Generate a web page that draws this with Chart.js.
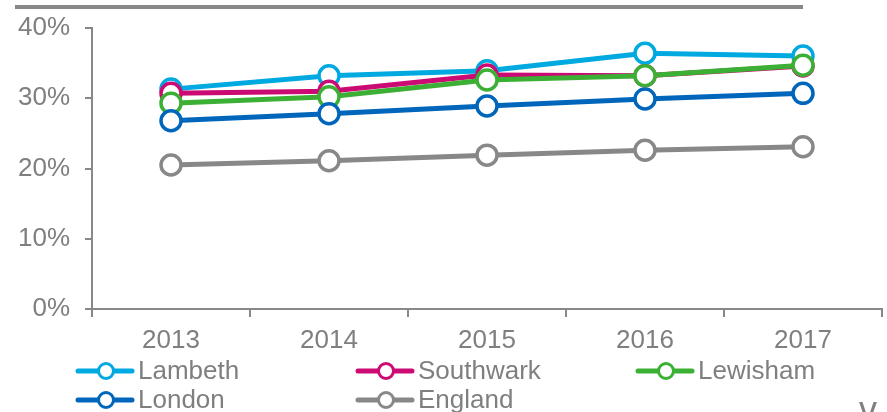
<!DOCTYPE html>
<html>
<head>
<meta charset="utf-8">
<script src="https://cdn.jsdelivr.net/npm/chart.js@4/dist/chart.umd.min.js"></script>
<style>
    body { margin: 0; background: #fff; }
    #wrap { position: relative; width: 887px; height: 412px; overflow: hidden; }
    #topline { position: absolute; left: 15px; top: 5px; width: 788px; height: 4px; background: #888; }
    #corner { position: absolute; left: 859px; top: 389px; font: 36px "Liberation Sans", Arial, sans-serif; color: #7f7f7f; }
</style>
</head>
<body>
<div id="wrap">
    <canvas id="lineChart" width="887" height="412"></canvas>
    <div id="topline"></div>
    <span id="corner">v</span>
</div>
<script>
"use strict";

// data
const years = ['2013', '2014', '2015', '2016', '2017'];
const lambeth = [31.3, 33.2, 33.9, 36.4, 36.0];
const southwark = [30.7, 31.0, 33.3, 33.2, 34.6];
const lewisham = [29.3, 30.2, 32.6, 33.2, 34.7];
const london = [26.8, 27.8, 28.9, 29.9, 30.7];
const england = [20.5, 21.1, 21.9, 22.6, 23.1];
const yTicks = [0, 10, 20, 30, 40];

const grey = '#7f7f7f';
const font = '"Liberation Sans", Arial, sans-serif';

function makeSet(label, data, color, order) {
    return {
        label: label,
        data: data,
        borderColor: color,
        backgroundColor: color,
        borderWidth: 5,
        pointRadius: 10,
        pointBorderWidth: 3.5,
        pointBackgroundColor: '#fff',
        pointBorderColor: color,
        order: order
    };
}

const sets = [
    makeSet('Lambeth', lambeth, '#00a9e0', 5),
    makeSet('Southwark', southwark, '#cc0a73', 4),
    makeSet('Lewisham', lewisham, '#3cb035', 3),
    makeSet('London', london, '#0066bb', 2),
    makeSet('England', england, '#888888', 1)
];

// egen legend, tre kolumner
const legendPlugin = {
    id: 'gridLegend',
    afterDraw(chart) {
        const ctx = chart.ctx;
        ctx.save();
        ctx.font = '26px ' + font;
        ctx.textBaseline = 'middle';
        sets.forEach((s, i) => {
            const x = 78 + (i % 3) * 280;
            const y = 371 + Math.floor(i / 3) * 29;
            ctx.strokeStyle = s.borderColor;
            ctx.lineWidth = 5;
            ctx.lineCap = 'round';
            ctx.beginPath();
            ctx.moveTo(x, y);
            ctx.lineTo(x + 54, y);
            ctx.stroke();
            ctx.beginPath();
            ctx.arc(x + 28, y, 7.5, 0, Math.PI * 2);
            ctx.fillStyle = '#fff';
            ctx.fill();
            ctx.lineWidth = 3;
            ctx.stroke();
            ctx.fillStyle = grey;
            ctx.fillText(s.label, x + 60, y + 1);
        });
        ctx.restore();
    }
};

new Chart(document.getElementById('lineChart'), {
    type: 'line',
    data: {
        labels: years,
        datasets: sets
    },
    options: {
        responsive: false,
        animation: false,
        layout: { autoPadding: false, padding: { top: 26, right: 5, left: 0, bottom: 0 } },
        plugins: {
            legend: { display: false },
            tooltip: { enabled: false }
        },
        scales: {
            x: {
                offset: true,
                grid: { offset: true, drawOnChartArea: false, tickLength: 8, color: '#888', lineWidth: 2 },
                border: { color: '#888', width: 2 },
                ticks: { color: grey, font: { size: 26, family: font, lineHeight: '48px' }, padding: 0 },
                afterFit(scale) { scale.height = 103; }
            },
            y: {
                min: 0,
                max: 40,
                afterBuildTicks(scale) { scale.ticks = yTicks.map(v => ({ value: v })); },
                grid: { drawOnChartArea: false, tickLength: 7, color: '#888', lineWidth: 2 },
                border: { color: '#888', width: 2 },
                ticks: {
                    color: grey,
                    font: { size: 26, family: font, lineHeight: 1 },
                    padding: 15,
                    callback: v => v + '%'
                },
                afterFit(scale) { scale.width = 92; }
            }
        }
    },
    plugins: [legendPlugin]
});
</script>
</body>
</html>
